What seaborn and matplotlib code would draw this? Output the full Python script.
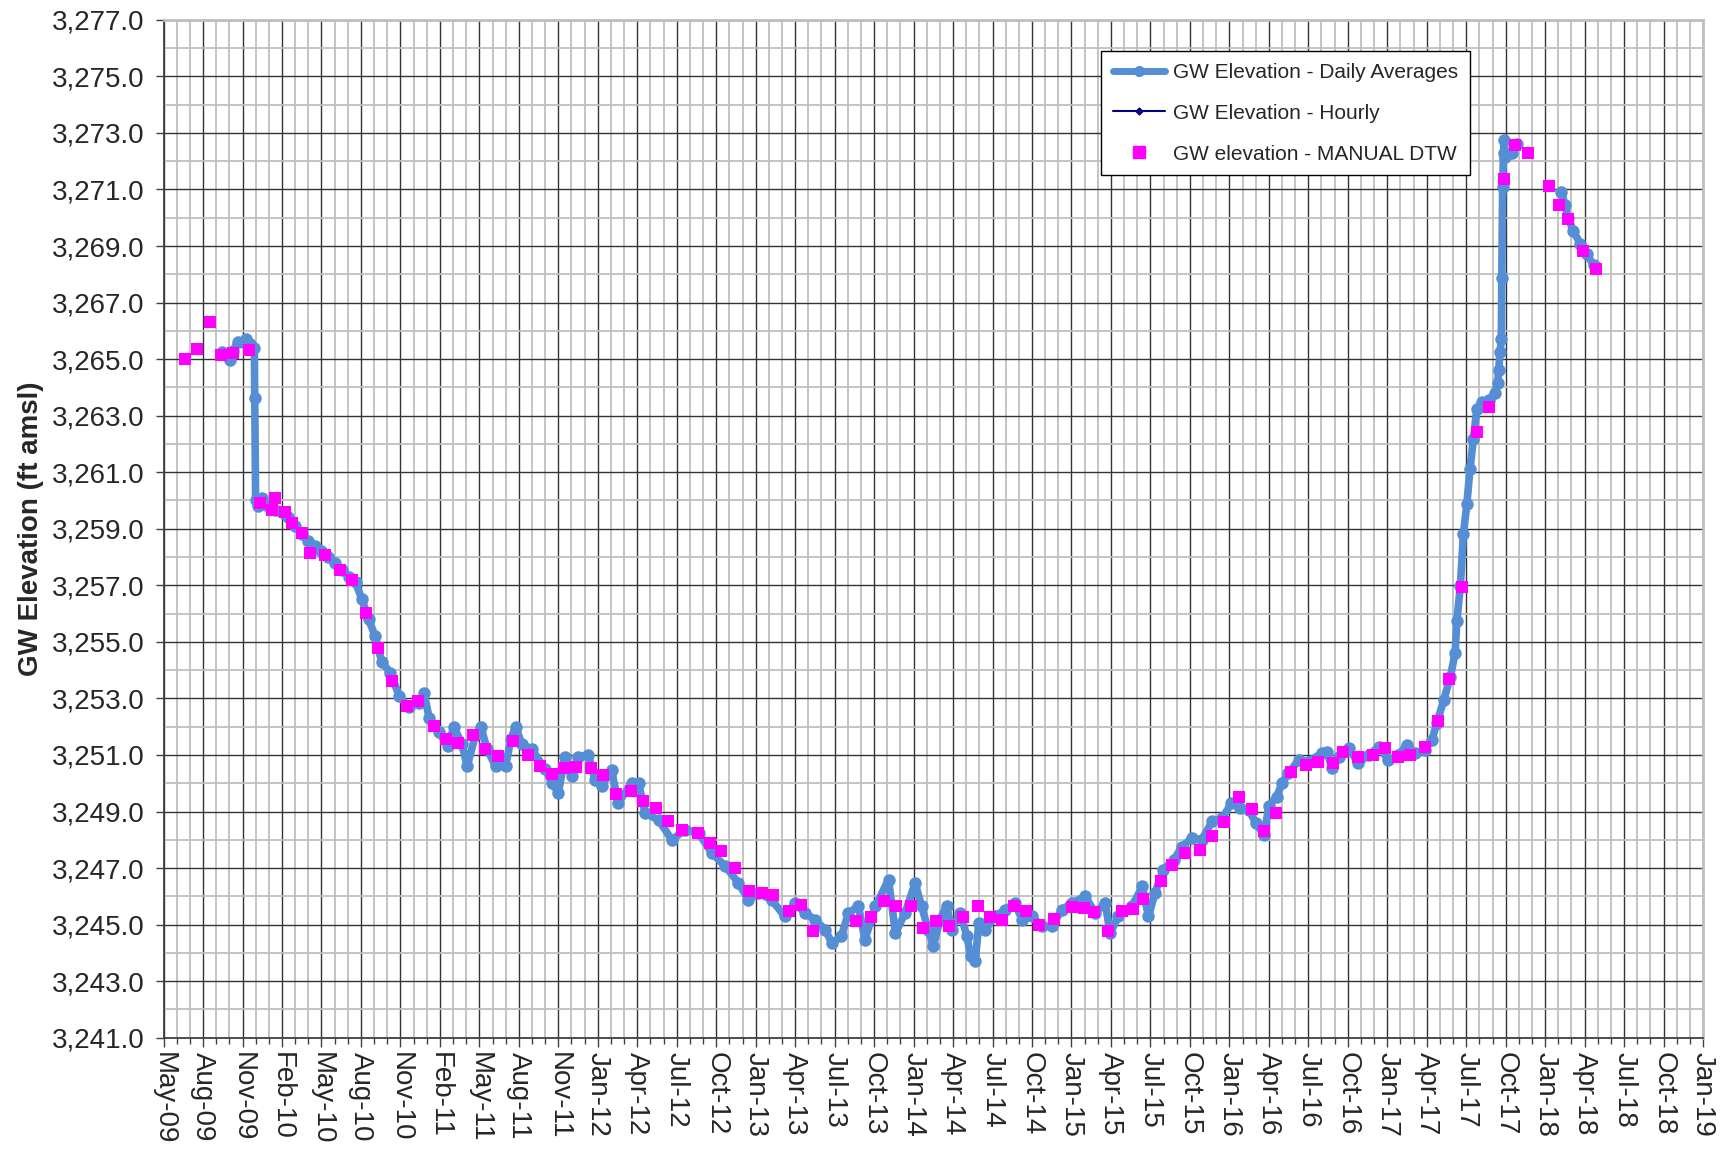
import numpy as np
import pandas as pd
import matplotlib
matplotlib.use("Agg")
import matplotlib.pyplot as plt
import matplotlib.dates as mdates
from matplotlib.ticker import FuncFormatter, FixedLocator
from matplotlib.lines import Line2D
import seaborn as sns

# ---- данные ----
daily_dates = [
    "2009-09-22", "2009-09-30", "2009-10-09", "2009-10-16", "2009-10-28", "2009-11-07",
    "2009-11-16", "2009-11-25", "2009-12-04", "2009-12-05", "2009-12-07", "2009-12-13",
    "2009-12-21", "2009-12-31", "2010-01-21", "2010-02-05", "2010-02-20", "2010-03-08",
    "2010-03-23", "2010-04-07", "2010-04-21", "2010-05-07", "2010-05-23", "2010-06-08",
    "2010-06-23", "2010-07-10", "2010-07-24", "2010-08-08", "2010-08-23", "2010-09-07",
    "2010-09-22", "2010-10-12", "2010-11-01", "2010-11-23", "2010-12-16", "2010-12-28",
    "2011-01-09", "2011-01-31", "2011-02-22", "2011-03-06", "2011-03-25", "2011-04-06",
    "2011-04-25", "2011-05-07", "2011-05-22", "2011-06-10", "2011-07-03", "2011-07-15",
    "2011-07-26", "2011-08-09", "2011-09-01", "2011-10-02", "2011-10-18", "2011-11-01",
    "2011-11-16", "2011-12-02", "2011-12-16", "2012-01-09", "2012-01-24", "2012-02-08",
    "2012-03-02", "2012-03-17", "2012-04-17", "2012-05-03", "2012-05-18", "2012-06-18",
    "2012-07-18", "2012-08-18", "2012-09-18", "2012-10-18", "2012-11-18", "2012-12-18",
    "2013-01-10", "2013-02-01", "2013-03-04", "2013-04-03", "2013-04-27", "2013-05-20",
    "2013-06-11", "2013-07-05", "2013-07-20", "2013-08-11", "2013-08-27", "2013-09-19",
    "2013-10-04", "2013-10-28", "2013-11-27", "2013-12-13", "2014-01-04", "2014-01-27",
    "2014-02-11", "2014-02-26", "2014-03-10", "2014-03-25", "2014-04-09", "2014-04-21",
    "2014-05-10", "2014-05-26", "2014-06-03", "2014-06-14", "2014-06-22", "2014-07-07",
    "2014-07-29", "2014-08-21", "2014-09-13", "2014-09-29", "2014-10-22", "2014-11-14",
    "2014-12-06", "2014-12-30", "2015-01-21", "2015-02-21", "2015-03-16", "2015-04-08",
    "2015-04-19", "2015-05-08", "2015-06-08", "2015-07-02", "2015-07-16", "2015-07-31",
    "2015-08-19", "2015-09-12", "2015-10-01", "2015-10-24", "2015-11-15", "2015-12-09",
    "2016-01-01", "2016-01-22", "2016-02-11", "2016-03-02", "2016-03-18", "2016-04-06",
    "2016-04-17", "2016-05-05", "2016-05-17", "2016-06-01", "2016-06-24", "2016-07-16",
    "2016-08-16", "2016-08-28", "2016-09-09", "2016-09-24", "2016-10-17", "2016-11-08",
    "2016-12-02", "2016-12-25", "2017-01-16", "2017-02-08", "2017-02-27", "2017-03-18",
    "2017-04-10", "2017-04-26", "2017-05-07", "2017-05-23", "2017-06-07", "2017-06-18",
    "2017-06-22", "2017-06-30", "2017-07-07", "2017-07-15", "2017-07-22", "2017-07-30",
    "2017-08-07", "2017-08-18", "2017-09-03", "2017-09-17", "2017-09-24", "2017-09-26",
    "2017-09-29", "2017-10-02", "2017-10-03", "2017-10-05", "2017-10-07", "2017-10-09",
    "2017-10-11", "2017-10-26", "2017-11-06",
    "2018-02-16", "2018-02-25", "2018-03-04", "2018-03-16", "2018-04-01", "2018-04-16",
    "2018-05-02",
]
daily_values = [
    3265.25, 3265.15, 3264.97, 3265.30, 3265.60, 3265.60,
    3265.70, 3265.55, 3265.40, 3263.64, 3260.00, 3259.80,
    3260.10, 3259.85, 3259.67, 3259.60, 3259.43, 3259.10,
    3258.80, 3258.55, 3258.40, 3258.20, 3258.00, 3257.80,
    3257.55, 3257.30, 3257.10, 3256.50, 3255.80, 3255.20,
    3254.30, 3253.90, 3253.10, 3252.70, 3252.85, 3253.20,
    3252.30, 3251.80, 3251.30, 3252.00, 3251.40, 3250.60,
    3251.70, 3252.00, 3251.20, 3250.60, 3250.60, 3251.55,
    3252.00, 3251.40, 3251.20, 3250.50, 3250.00, 3249.65,
    3250.94, 3250.24, 3250.94, 3251.00, 3250.10, 3249.90,
    3250.47, 3249.30, 3250.00, 3250.00, 3248.94, 3248.70,
    3248.00, 3248.35, 3248.23, 3247.53, 3247.06, 3246.47,
    3245.88, 3246.12, 3245.88, 3245.29, 3245.76, 3245.41,
    3245.18, 3244.82, 3244.35, 3244.59, 3245.41, 3245.65,
    3244.47, 3245.65, 3246.59, 3244.70, 3245.41, 3246.47,
    3245.65, 3244.82, 3244.24, 3245.18, 3245.65, 3244.82,
    3245.41, 3244.59, 3243.88, 3243.71, 3245.06, 3244.82,
    3245.29, 3245.53, 3245.76, 3245.18, 3245.29, 3244.94,
    3244.94, 3245.53, 3245.76, 3246.00, 3245.41, 3245.76,
    3244.70, 3245.29, 3245.65, 3246.35, 3245.29, 3246.12,
    3246.94, 3247.29, 3247.76, 3248.06, 3248.00, 3248.65,
    3248.76, 3249.29, 3249.12, 3249.06, 3248.59, 3248.18,
    3249.18, 3249.53, 3250.00, 3250.35, 3250.82, 3250.76,
    3251.06, 3251.12, 3250.53, 3250.94, 3251.24, 3250.71,
    3251.00, 3251.29, 3250.82, 3251.00, 3251.35, 3251.06,
    3251.18, 3251.53, 3252.12, 3252.94, 3253.76, 3254.59,
    3255.74, 3256.97, 3258.80, 3259.88, 3261.10, 3262.18,
    3263.25, 3263.48, 3263.56, 3263.79, 3264.17, 3264.63,
    3265.25, 3265.70, 3267.86, 3271.08, 3272.30, 3272.76,
    3272.15, 3272.30, 3272.60,
    3270.92, 3270.46, 3270.00, 3269.54, 3269.08, 3268.70,
    3268.32,
]
gap_after = "2017-11-06"   # разрыв в записи логгера

manual_dates = [
    "2009-06-28", "2009-07-26", "2009-08-24", "2009-09-19", "2009-10-17", "2009-11-22",
    "2009-12-18", "2010-01-14", "2010-01-21", "2010-02-12", "2010-02-28", "2010-03-23",
    "2010-04-11", "2010-05-14", "2010-06-19", "2010-07-16", "2010-08-18", "2010-09-13",
    "2010-10-16", "2010-11-18", "2010-12-15", "2011-01-19", "2011-02-16", "2011-03-15",
    "2011-04-19", "2011-05-16", "2011-06-15", "2011-07-19", "2011-08-23", "2011-09-21",
    "2011-10-17", "2011-11-13", "2011-12-12", "2012-01-15", "2012-02-12", "2012-03-12",
    "2012-04-15", "2012-05-14", "2012-06-11", "2012-07-09", "2012-08-11", "2012-09-17",
    "2012-10-14", "2012-11-09", "2012-12-09", "2013-01-11", "2013-02-09", "2013-03-08",
    "2013-04-13", "2013-05-10", "2013-06-07", "2013-09-14", "2013-10-19", "2013-11-16",
    "2013-12-14", "2014-01-18", "2014-02-15", "2014-03-16", "2014-04-14", "2014-05-16",
    "2014-06-20", "2014-07-18", "2014-08-15", "2014-09-11", "2014-10-09", "2014-11-07",
    "2014-12-11", "2015-01-21", "2015-02-19", "2015-03-14", "2015-04-15", "2015-05-16",
    "2015-06-10", "2015-07-03", "2015-08-13", "2015-09-08", "2015-10-07", "2015-11-11",
    "2015-12-09", "2016-01-06", "2016-02-09", "2016-03-09", "2016-04-05", "2016-05-03",
    "2016-06-07", "2016-07-12", "2016-08-08", "2016-09-12", "2016-10-04", "2016-11-08",
    "2016-12-11", "2017-01-09", "2017-02-06", "2017-03-07", "2017-04-10", "2017-05-09",
    "2017-06-05", "2017-07-03", "2017-08-07", "2017-09-03", "2017-10-07", "2017-11-03",
    "2017-12-03", "2018-01-19", "2018-02-12", "2018-03-04", "2018-04-08", "2018-05-07",
]
manual_values = [
    3265.00, 3265.36, 3266.33, 3265.15, 3265.21, 3265.32,
    3259.91, 3259.67, 3260.08, 3259.61, 3259.20, 3258.85,
    3258.14, 3258.08, 3257.55, 3257.20, 3256.02, 3254.79,
    3253.61, 3252.73, 3252.91, 3252.02, 3251.55, 3251.41,
    3251.69, 3251.22, 3250.96, 3251.48, 3250.99, 3250.61,
    3250.32, 3250.53, 3250.59, 3250.53, 3250.29, 3249.61,
    3249.73, 3249.39, 3249.12, 3248.65, 3248.35, 3248.24,
    3247.88, 3247.59, 3247.00, 3246.20, 3246.12, 3246.06,
    3245.47, 3245.71, 3244.76, 3245.12, 3245.27, 3245.82,
    3245.67, 3245.67, 3244.88, 3245.12, 3244.96, 3245.27,
    3245.65, 3245.26, 3245.18, 3245.67, 3245.49, 3245.00,
    3245.20, 3245.62, 3245.59, 3245.44, 3244.79, 3245.47,
    3245.55, 3245.91, 3246.55, 3247.12, 3247.55, 3247.65,
    3248.14, 3248.62, 3249.51, 3249.08, 3248.32, 3248.94,
    3250.40, 3250.65, 3250.76, 3250.73, 3251.09, 3250.94,
    3251.00, 3251.24, 3250.92, 3251.00, 3251.27, 3252.21,
    3253.67, 3256.94, 3262.41, 3263.32, 3271.37, 3272.58,
    3272.30, 3271.12, 3270.46, 3269.97, 3268.82, 3268.19,
]

# ось дат как в Excel: основной шаг 90.5 сут, промежуточный - треть
axis_start = "2009-05-10"
major_step_days = 90.5
n_major = 39
y_min, y_max = 3241, 3277

daily = pd.DataFrame({"date": pd.to_datetime(daily_dates), "elev": daily_values})
daily["segment"] = (daily["date"] > pd.Timestamp(gap_after)).astype(int)
manual = pd.DataFrame({"date": pd.to_datetime(manual_dates), "elev": manual_values})

sns.set_style("white")
plt.rcParams["font.family"] = ["Liberation Sans", "DejaVu Sans"]

fig = plt.figure(figsize=(17.22, 11.51), dpi=100)
ax = fig.add_axes([0.095, 0.0984, 0.894, 0.8844])

daily_color = "#558ED5"
sns.lineplot(data=daily, x="date", y="elev", units="segment", estimator=None,
             sort=False, color=daily_color, linewidth=5.5, marker="o",
             markersize=9, markeredgewidth=0, legend=False, ax=ax, zorder=3)
sns.scatterplot(data=manual, x="date", y="elev", color="#FF00FF", marker="s",
                s=85, linewidth=0, legend=False, ax=ax, zorder=4)

# оси
x0 = mdates.date2num(pd.Timestamp(axis_start))
majors = x0 + np.arange(n_major + 1) * major_step_days
minors = x0 + np.arange(n_major * 3 + 1) * major_step_days / 3
ax.set_xlim(majors[0], majors[-1])
ax.xaxis.set_major_locator(FixedLocator(majors))
ax.xaxis.set_minor_locator(FixedLocator(minors))
ax.xaxis.set_major_formatter(mdates.DateFormatter("%b-%y"))

ax.set_ylim(y_min, y_max)
ax.yaxis.set_major_locator(FixedLocator(np.arange(y_min, y_max + 1, 2)))
ax.yaxis.set_minor_locator(FixedLocator(np.arange(y_min + 1, y_max, 2)))
ax.yaxis.set_major_formatter(FuncFormatter(lambda v, p: f"{v:,.1f}"))

ax.grid(which="minor", color="#BFBFBF", linewidth=1.3, zorder=0)
ax.grid(which="major", color="#333333", linewidth=1.0, zorder=1)
ax.set_axisbelow(True)

ax.tick_params(axis="x", which="major", labelsize=20, labelrotation=270,
               length=6.5, width=1, color="#404040", pad=4, direction="out")
ax.tick_params(axis="x", which="minor", length=4, width=1, color="#404040",
               direction="out")
ax.tick_params(axis="y", which="major", labelsize=20, length=6, width=1,
               color="#404040", pad=8, direction="out")
ax.tick_params(axis="y", which="minor", length=0)
ax.tick_params(bottom=True, left=True, which="both")
for lab in ax.get_xticklabels():
    lab.set_ha("center")
    lab.set_va("top")

for side in ["left", "bottom"]:
    ax.spines[side].set_color("#404040")
    ax.spines[side].set_linewidth(1.3)
for side in ["top", "right"]:
    ax.spines[side].set_color("#BFBFBF")
    ax.spines[side].set_linewidth(2)

ax.set_xlabel("")
ax.set_ylabel("GW Elevation (ft amsl)", fontsize=20, fontweight="bold", labelpad=5)

handles = [
    Line2D([], [], color=daily_color, linewidth=5, marker="o", markersize=7),
    Line2D([], [], color="#000080", linewidth=1.5, marker="D", markersize=3.5),
    Line2D([], [], color="#FF00FF", linewidth=0, marker="s", markersize=9),
]
labels = ["GW Elevation - Daily Averages", "GW Elevation - Hourly",
          "GW elevation - MANUAL DTW"]
leg = ax.legend(handles, labels, loc="upper left", bbox_to_anchor=(0.609, 0.969),
                borderaxespad=0, fontsize=15, frameon=True, fancybox=False,
                framealpha=1, edgecolor="#000000", handlelength=2.5,
                labelspacing=1.05, borderpad=0.55, handletextpad=0.4)
leg.get_frame().set_linewidth(1.0)
leg.set_zorder(10)

fig.savefig("out.png", dpi=100)
